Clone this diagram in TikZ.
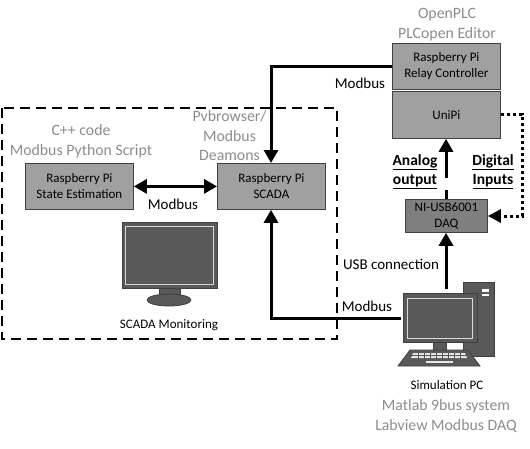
\documentclass[tikz,border=0pt]{standalone}
\usepackage{fontspec}
\setmainfont{Carlito}
\usetikzlibrary{arrows.meta}
\definecolor{boxg}{HTML}{A0A0A0}
\definecolor{daqg}{HTML}{7F7F7F}
\definecolor{edgeg}{HTML}{404040}
\definecolor{notes}{HTML}{8C8C8C}
\definecolor{pcg}{HTML}{595959}
\tikzset{
  x=1pt,y=-1pt,
  box/.style={draw=edgeg,line width=0.8pt,fill=boxg,minimum width=108pt,minimum height=46pt,align=center,inner sep=0pt,font=\fontsize{13}{16}\selectfont,anchor=north west},
  note/.style={text=notes,align=center,inner sep=0pt,font=\fontsize{15.8}{19.5}\selectfont},
  lab/.style={inner sep=0pt,align=center,font=\fontsize{15}{19}\selectfont},
  capt/.style={inner sep=0pt,align=center,font=\fontsize{13}{14}\selectfont},
  under/.style={inner sep=0pt,align=center,font=\bfseries\fontsize{15.5}{19.5}\selectfont},
  conn/.style={line width=3pt,-{Triangle[length=13pt,width=14pt]}},
  connb/.style={line width=3pt,{Triangle[length=13pt,width=14pt]}-{Triangle[length=13pt,width=14pt]}},
  plain/.style={line width=3pt},
  zone/.style={draw=black,line width=1.5pt,dash pattern=on 10pt off 6pt},
  dev/.style={draw=edgeg,line width=0.8pt,fill=pcg},
  screen/.style={draw=black!15,line width=0.8pt,fill=pcg},
}
\begin{document}
\begin{tikzpicture}
\useasboundingbox (0,0) rectangle (530,448);
\draw[zone] (2,108) rectangle (337,339);

\node[box] (relay) at (392,43) {Raspberry Pi\\Relay Controller};
\node[box,minimum height=47pt] (unipi) at (392,91) {UniPi};
\node[box,fill=daqg,minimum width=82pt,minimum height=33pt,font=\fontsize{13}{16}\selectfont] (daq) at (405,199) {NI-USB6001\\DAQ};
\node[box] (state) at (25,163) {Raspberry Pi\\State Estimation};
\node[box] (scada) at (217,163) {Raspberry Pi\\SCADA};

\coordinate (relayturn) at (271,66);
\coordinate (pcin) at (401,318);
\coordinate (busturn) at (271,318);
\coordinate (dgA) at (522,114);
\coordinate (dgB) at (522,216);
\coordinate (breakA) at (446,178);
\coordinate (breakB) at (446,190);
\coordinate (usbstart) at (446,289);

\draw[conn] (relay.west |- relayturn) -- (relayturn) -- (scada.north -| relayturn);
\draw[conn] (pcin) -- (busturn) -- (scada.south -| busturn);
\draw[connb] (state.east) -- (scada.west);
\draw[conn] (breakA) -- (unipi.south -| breakA);
\draw[plain] (daq.north -| breakB) -- (breakB);
\draw[conn] (usbstart) -- (daq.south -| usbstart);
\draw[line width=3pt,dash pattern=on 3.5pt off 2.5pt,-{Triangle[length=13pt,width=13pt]}] (unipi.east |- dgA) -- (dgA) -- (dgB) -- (daq.east |- dgB);

% SCADA monitor
\filldraw[dev] (159,288) rectangle (180,298);
\filldraw[dev] (169,300) ellipse (22pt and 6pt);
\filldraw[dev] (122,222) rectangle (217,288);
\draw[screen] (125.5,226) rectangle (213.5,284);

% Simulation PC
\filldraw[dev] (463,282) rectangle (494,356);
\fill[white] (481.5,289) rectangle (488.5,292);
\fill[white] (481.5,293.5) rectangle (488.5,296);
\filldraw[dev] (433,342) rectangle (446,350);
\filldraw[dev] (410,350) -- (468,350) -- (480,366) -- (398,366) -- cycle;
\fill[white!90!black] (413,353) -- (465,353) -- (467,358) -- (411,358) -- cycle;
\fill[pcg] (408,355.2) rectangle (470,355.8);
\foreach \gx in {418,424,430,436,442,448,454,460}{\fill[pcg] (\gx,352) rectangle (\gx+1,359);}
\fill[white!90!black] (426,361) rectangle (453,363);
\filldraw[dev] (403,293) rectangle (477,342);
\draw[screen] (407.5,298) rectangle (472,338);

% Labels
\node[note] (tplc) at (447,24.5) {OpenPLC\\PLCopen Editor};
\node[note] (tcpp) at (81,141.5) {C++ code\\Modbus Python Script};
\node[note] (tpv) at (229.5,136) {Pvbrowser/\\Modbus\\Deamons};
\node[note] (tmat) at (446,416) {Matlab 9bus system\\Labview Modbus DAQ};
\node[lab] (mb1) at (360,83) {Modbus};
\node[lab] (mb2) at (173,204) {Modbus};
\node[lab] (mb3) at (367,306) {Modbus};
\node[lab] (usb) at (391,264) {USB connection};
\node[under] (analog) at (415,162) {\underline{Analog}};
\node[under] (output) at (415,182) {\underline{output}};
\node[under] (digital) at (493,162) {\underline{Digital}};
\node[under] (inputs) at (493,182) {\underline{Inputs}};
\node[capt] (cscada) at (169,325) {SCADA Monitoring};
\node[capt] (csim) at (447,385) {Simulation PC};
\end{tikzpicture}
\end{document}
